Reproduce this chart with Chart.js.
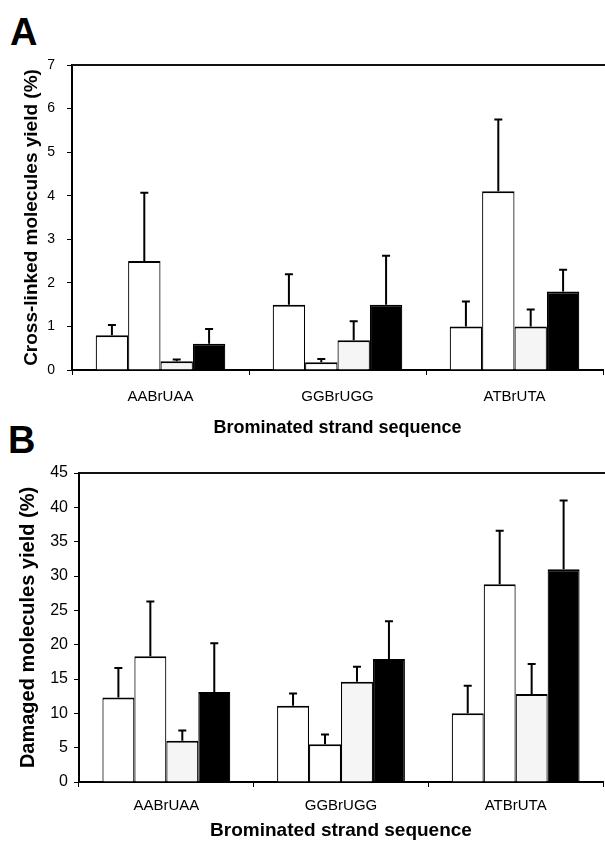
<!DOCTYPE html>
<html>
<head>
<meta charset="utf-8">
<script src="https://cdn.jsdelivr.net/npm/chart.js@4.4.1/dist/chart.umd.min.js"></script>
<style>
  html, body { margin: 0; padding: 0; background: #fff; }
  body { width: 605px; height: 846px; position: relative; overflow: hidden; }
  canvas { position: absolute; left: 0; }
  .panel { position: absolute; font-family: "Liberation Sans", Arial, sans-serif; font-weight: bold; font-size: 38px; line-height: 38px; color: #000; }
</style>
</head>
<body>
<div class="panel" style="left:10px; top:13px;">A</div>
<div class="panel" style="left:8px; top:421px;">B</div>
<canvas id="chartA" width="605" height="440" style="top:0px; width:605px; height:440px;"></canvas>
<canvas id="chartB" width="605" height="406" style="top:440px; width:605px; height:406px;"></canvas>
<script>
// ---- data ----
const categories = ['AABrUAA', 'GGBrUGG', 'ATBrUTA'];
const seriesNames = ['Condition 1', 'Condition 2', 'Condition 3', 'Condition 4'];

// Panel A: cross-linked molecules yield (%)
const crossS1 = [0.8, 1.5, 1.0];
const crossS2 = [2.5, 0.18, 4.1];
const crossS3 = [0.2, 0.68, 1.0];
const crossS4 = [0.6, 1.5, 1.8];
const crossErr1 = [0.23, 0.7, 0.57];
const crossErr2 = [1.57, 0.07, 1.65];
const crossErr3 = [0.04, 0.44, 0.39];
const crossErr4 = [0.34, 1.12, 0.5];
const crossTicks = [0, 1, 2, 3, 4, 5, 6, 7];

// Panel B: damaged molecules yield (%)
const damS1 = [12.3, 11.1, 10.0];
const damS2 = [18.3, 5.5, 28.8];
const damS3 = [6.0, 14.6, 12.8];
const damS4 = [13.1, 17.9, 31.0];
const damErr1 = [4.3, 1.8, 4.0];
const damErr2 = [8.0, 1.4, 7.8];
const damErr3 = [1.5, 2.2, 4.4];
const damErr4 = [7.1, 5.5, 10.0];
const damTicks = [0, 5, 10, 15, 20, 25, 30, 35, 40, 45];

const xTitle = 'Brominated strand sequence';
const yTitleA = 'Cross-linked molecules yield (%)';
const yTitleB = 'Damaged molecules yield (%)';

// ---- styling ----
const FONT = '"Liberation Sans", Arial, sans-serif';
const fills = ['#ffffff', '#ffffff', '#f5f5f5', '#000000'];

const errorBarPlugin = {
  id: 'errorBars',
  afterDatasetsDraw(chart) {
    const ctx = chart.ctx;
    const yScale = chart.scales.y;
    ctx.save();
    ctx.strokeStyle = '#000';
    ctx.lineWidth = 2;
    chart.data.datasets.forEach((ds, di) => {
      const meta = chart.getDatasetMeta(di);
      meta.data.forEach((bar, i) => {
        const v = ds.data[i];
        const e = ds.errors[i];
        const yTop = yScale.getPixelForValue(v + e);
        const yBase = yScale.getPixelForValue(v);
        ctx.beginPath();
        ctx.moveTo(bar.x, yBase);
        ctx.lineTo(bar.x, yTop);
        ctx.moveTo(bar.x - 4, yTop);
        ctx.lineTo(bar.x + 4, yTop);
        ctx.stroke();
      });
    });
    ctx.restore();
  }
};

const topBorderPlugin = {
  id: 'topBorder',
  afterDraw(chart) {
    const {ctx, chartArea} = chart;
    ctx.save();
    ctx.strokeStyle = '#111';
    ctx.lineWidth = 2;
    ctx.beginPath();
    ctx.moveTo(chartArea.left, chartArea.top);
    ctx.lineTo(chart.width, chartArea.top);
    ctx.stroke();
    ctx.restore();
  }
};

function makeDatasets(values, errors) {
  return values.map((vals, k) => ({
    label: seriesNames[k],
    data: vals,
    errors: errors[k],
    backgroundColor: fills[k],
    borderColor: '#000',
    borderWidth: {top: 2, left: 1.2, right: 1.2, bottom: 0},
    borderSkipped: 'bottom',
    categoryPercentage: 0.732,
    barPercentage: 1.0
  }));
}

function makeChart(id, cfg) {
  return new Chart(document.getElementById(id), {
    type: 'bar',
    data: { labels: categories, datasets: makeDatasets(cfg.values, cfg.errors) },
    options: {
      responsive: false,
      animation: false,
      events: [],
      layout: { padding: { top: cfg.padTop, right: 2, left: 0, bottom: 0 } },
      plugins: { legend: { display: false }, tooltip: { enabled: false } },
      scales: {
        x: {
          afterFit: s => { s.height = cfg.xHeight; },
          grid: { display: true, drawOnChartArea: false, offset: true, tickLength: 5, color: '#000', lineWidth: 1 },
          border: { display: true, color: '#000', width: 2 },
          ticks: { color: '#000', padding: cfg.xTickPad, font: { family: FONT, size: 15 }, maxRotation: 0 },
          title: { display: true, text: xTitle, color: '#000', font: { family: FONT, size: cfg.xTitleSize, weight: 'bold' }, padding: { top: 0, bottom: cfg.xTitlePadB } }
        },
        y: {
          min: 0, max: cfg.max,
          afterFit: s => { s.width = cfg.yWidth; },
          afterBuildTicks: s => { s.ticks = cfg.ticks.map(v => ({ value: v })); },
          grid: { display: true, drawOnChartArea: false, tickLength: 5, color: '#000', lineWidth: 1 },
          border: { display: true, color: '#000', width: 2 },
          ticks: { color: '#000', padding: cfg.yTickPad, font: { family: FONT, size: cfg.yTickSize } },
          title: { display: true, text: cfg.yTitle, color: '#000', font: { family: FONT, size: cfg.yTitleSize, weight: 'bold' }, padding: { top: cfg.yTitlePadT, bottom: 0 } }
        }
      }
    },
    plugins: [errorBarPlugin, topBorderPlugin]
  });
}

makeChart('chartA', {
  values: [crossS1, crossS2, crossS3, crossS4],
  errors: [crossErr1, crossErr2, crossErr3, crossErr4],
  max: 7, ticks: crossTicks,
  padTop: 65, xHeight: 70, yWidth: 72,
  xTickPad: 13, xTitleSize: 18, xTitlePadB: 1,
  yTickPad: 12, yTickSize: 14,
  yTitle: yTitleA, yTitleSize: 19, yTitlePadT: 20
});

makeChart('chartB', {
  values: [damS1, damS2, damS3, damS4],
  errors: [damErr1, damErr2, damErr3, damErr4],
  max: 45, ticks: damTicks,
  padTop: 33, xHeight: 64, yWidth: 79,
  xTickPad: 10, xTitleSize: 19, xTitlePadB: 4,
  yTickPad: 6, yTickSize: 16,
  yTitle: yTitleB, yTitleSize: 20, yTitlePadT: 16
});
</script>
</body>
</html>
